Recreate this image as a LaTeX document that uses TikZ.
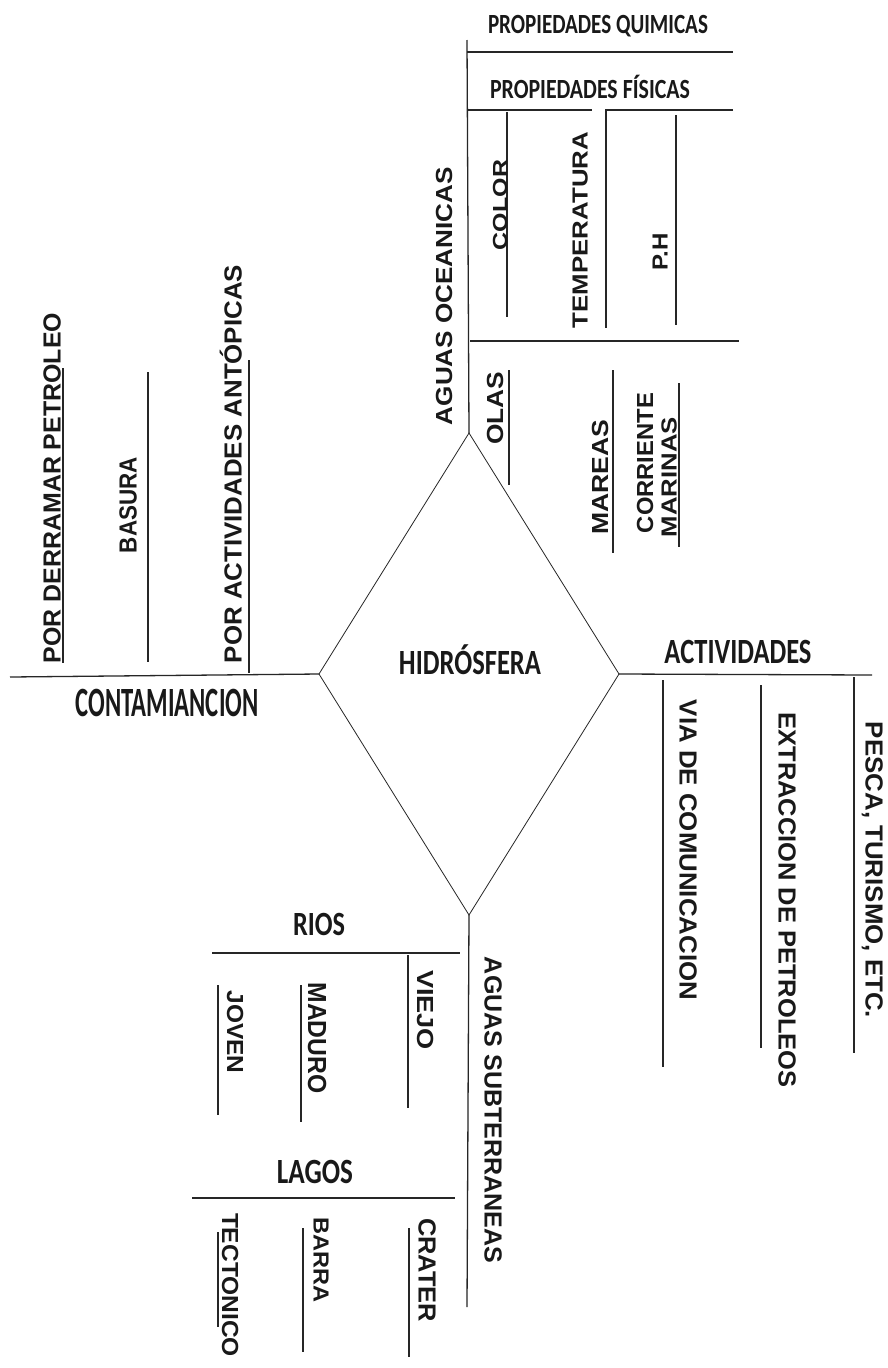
\documentclass[tikz,border=0pt]{standalone}
\usepackage{fontspec}
\usepackage{graphicx}
\usetikzlibrary{shapes.geometric}
\newfontfamily\hfont{Carlito}
\newfontfamily\vfont{Liberation Sans}
\newcommand\fitbox[3]{\resizebox{#1pt}{#2pt}{\raisebox{0pt}[\fontcharht\font`H][0pt]{#3}}}
\begin{document}
\begin{tikzpicture}[x=1pt,y=-1pt,
  txt/.style={inner sep=0pt,outer sep=0pt},
  hd/.style={txt,font=\hfont\bfseries,black!90},
  vt/.style={txt,font=\vfont\bfseries,black!90},
  up/.style={vt,rotate=90},
  dn/.style={vt,rotate=-90},
  ln/.style={line width=1.3pt,black!85}]
\useasboundingbox[fill=white] (0,0) rectangle (887,1368);

% central diamond
\node[draw,diamond,minimum width=300pt,minimum height=482pt,inner sep=0pt,outer sep=0pt,line width=0.8pt,black!85] (hidro) at (469,674) {};
\node[hd] (hidroT) at (470,663) {\fitbox{142}{23}{HIDRÓSFERA}};

% ---------- left: contaminacion
\coordinate (cL) at (10,677);
\draw[ln] (hidro.west) -- (cL);
\node[hd] (contam) at (167,703) {\fitbox{183}{27}{CONTAMIANCION}};
\coordinate (pdpA) at (63,368);  \coordinate (pdpB) at (63,663);
\coordinate (basA) at (148,372); \coordinate (basB) at (148,662);
\coordinate (paaA) at (249,360); \coordinate (paaB) at (249,673);
\draw[ln] (pdpA) -- (pdpB);
\draw[ln] (basA) -- (basB);
\draw[ln] (paaA) -- (paaB);
\node[up] (pdp) at (52,488) {\fitbox{350}{17}{POR DERRAMAR PETROLEO}};
\node[up] (bas) at (128,505) {\fitbox{96}{17}{BASURA}};
\node[up] (paa) at (233,464) {\fitbox{398}{17}{POR ACTIVIDADES ANTÓPICAS}};

% ---------- top: aguas oceanicas
\coordinate (oceTop) at (467,40);
\draw[ln] (hidro.north) -- (oceTop);
\node[up] (oce) at (444,296) {\fitbox{258}{16}{AGUAS OCEANICAS}};
\node[hd] (pq) at (598,24) {\fitbox{220}{18}{PROPIEDADES QUIMICAS}};
\coordinate (pqA) at (467,52); \coordinate (pqB) at (733,52);
\draw[ln] (pqA) -- (pqB);
\node[hd] (pf) at (590,89) {\fitbox{200}{18}{PROPIEDADES FÍSICAS}};
\coordinate (pfA) at (467,110); \coordinate (pfB) at (592,110);
\coordinate (pfC) at (606,110); \coordinate (pfD) at (733,110);
\draw[ln] (pfA) -- (pfB);
\draw[ln] (pfD) -- (pfC) -- (606,328) coordinate (temB);
\coordinate (colA) at (507,112); \coordinate (colB) at (507,317);
\draw[ln] (colA) -- (colB);
\coordinate (phA) at (676,115); \coordinate (phB) at (676,325);
\draw[ln] (phA) -- (phB);
\node[up] (col) at (500,205) {\fitbox{90}{14}{COLOR}};
\node[up] (tem) at (580,230) {\fitbox{196}{15}{TEMPERATURA}};
\node[up] (ph) at (660,252) {\fitbox{37}{15}{P.H}};
\coordinate (bA) at (470,341); \coordinate (bB) at (739,341);
\draw[ln] (bA) -- (bB);
\coordinate (olA) at (509,370); \coordinate (olB) at (509,485);
\coordinate (maA) at (613,370); \coordinate (maB) at (613,553);
\coordinate (coA) at (679,383); \coordinate (coB) at (679,547);
\draw[ln] (olA) -- (olB);
\draw[ln] (maA) -- (maB);
\draw[ln] (coA) -- (coB);
\node[up] (ola) at (495,408) {\fitbox{73}{16}{OLAS}};
\node[up] (mar) at (600,477) {\fitbox{115}{16}{MAREAS}};
\node[up] (cor) at (645,463) {\fitbox{140}{16}{CORRIENTE}};
\node[up] (mrn) at (669,477) {\fitbox{120}{15}{MARINAS}};

% ---------- right: actividades
\coordinate (aR) at (872,675);
\draw[ln] (hidro.east) -- (aR);
\node[hd] (act) at (738,652) {\fitbox{147}{23}{ACTIVIDADES}};
\coordinate (viA) at (663,680); \coordinate (viB) at (663,1067);
\coordinate (exA) at (761,685); \coordinate (exB) at (761,1048);
\coordinate (peA) at (854,677); \coordinate (peB) at (854,1053);
\draw[ln] (viA) -- (viB);
\draw[ln] (exA) -- (exB);
\draw[ln] (peA) -- (peB);
\node[dn] (via) at (688,850) {\fitbox{300}{17}{VIA DE COMUNICACION}};
\node[dn] (ext) at (787,900) {\fitbox{375}{17}{EXTRACCION DE PETROLEOS}};
\node[dn] (pes) at (874,870) {\fitbox{296}{17}{PESCA, TURISMO, ETC.}};

% ---------- bottom: aguas subterraneas
\coordinate (subB) at (467,1307);
\draw[ln] (hidro.south) -- (subB);
\node[dn] (sub) at (493,1110) {\fitbox{306}{17}{AGUAS SUBTERRANEAS}};
\node[hd] (rios) at (319,924) {\fitbox{52}{22}{RIOS}};
\coordinate (rA) at (212,953); \coordinate (rB) at (460,953);
\draw[ln] (rA) -- (rB);
\coordinate (vjA) at (408,955); \coordinate (vjB) at (408,1108);
\coordinate (mdA) at (301,985); \coordinate (mdB) at (301,1122);
\coordinate (jvA) at (218,985); \coordinate (jvB) at (218,1115);
\draw[ln] (vjA) -- (vjB);
\draw[ln] (mdA) -- (mdB);
\draw[ln] (jvA) -- (jvB);
\node[dn] (vie) at (425,1010) {\fitbox{80}{16}{VIEJO}};
\node[dn] (mad) at (317,1038) {\fitbox{111}{18}{MADURO}};
\node[dn] (jov) at (235,1032) {\fitbox{83}{16}{JOVEN}};
\node[hd] (lagos) at (315,1172) {\fitbox{76}{23}{LAGOS}};
\coordinate (lA) at (192,1198); \coordinate (lB) at (455,1198);
\draw[ln] (lA) -- (lB);
\coordinate (crA) at (409,1228); \coordinate (crB) at (409,1357);
\coordinate (baA) at (303,1228); \coordinate (baB) at (303,1352);
\coordinate (teA) at (218,1232); \coordinate (teB) at (218,1327);
\draw[ln] (crA) -- (crB);
\draw[ln] (baA) -- (baB);
\draw[ln] (teA) -- (teB);
\node[dn] (cra) at (427,1270) {\fitbox{104}{17}{CRATER}};
\node[dn] (bar) at (321,1260) {\fitbox{85}{15}{BARRA}};
\node[dn] (tec) at (230,1285) {\fitbox{144}{16}{TECTONICO}};
\end{tikzpicture}
\end{document}
